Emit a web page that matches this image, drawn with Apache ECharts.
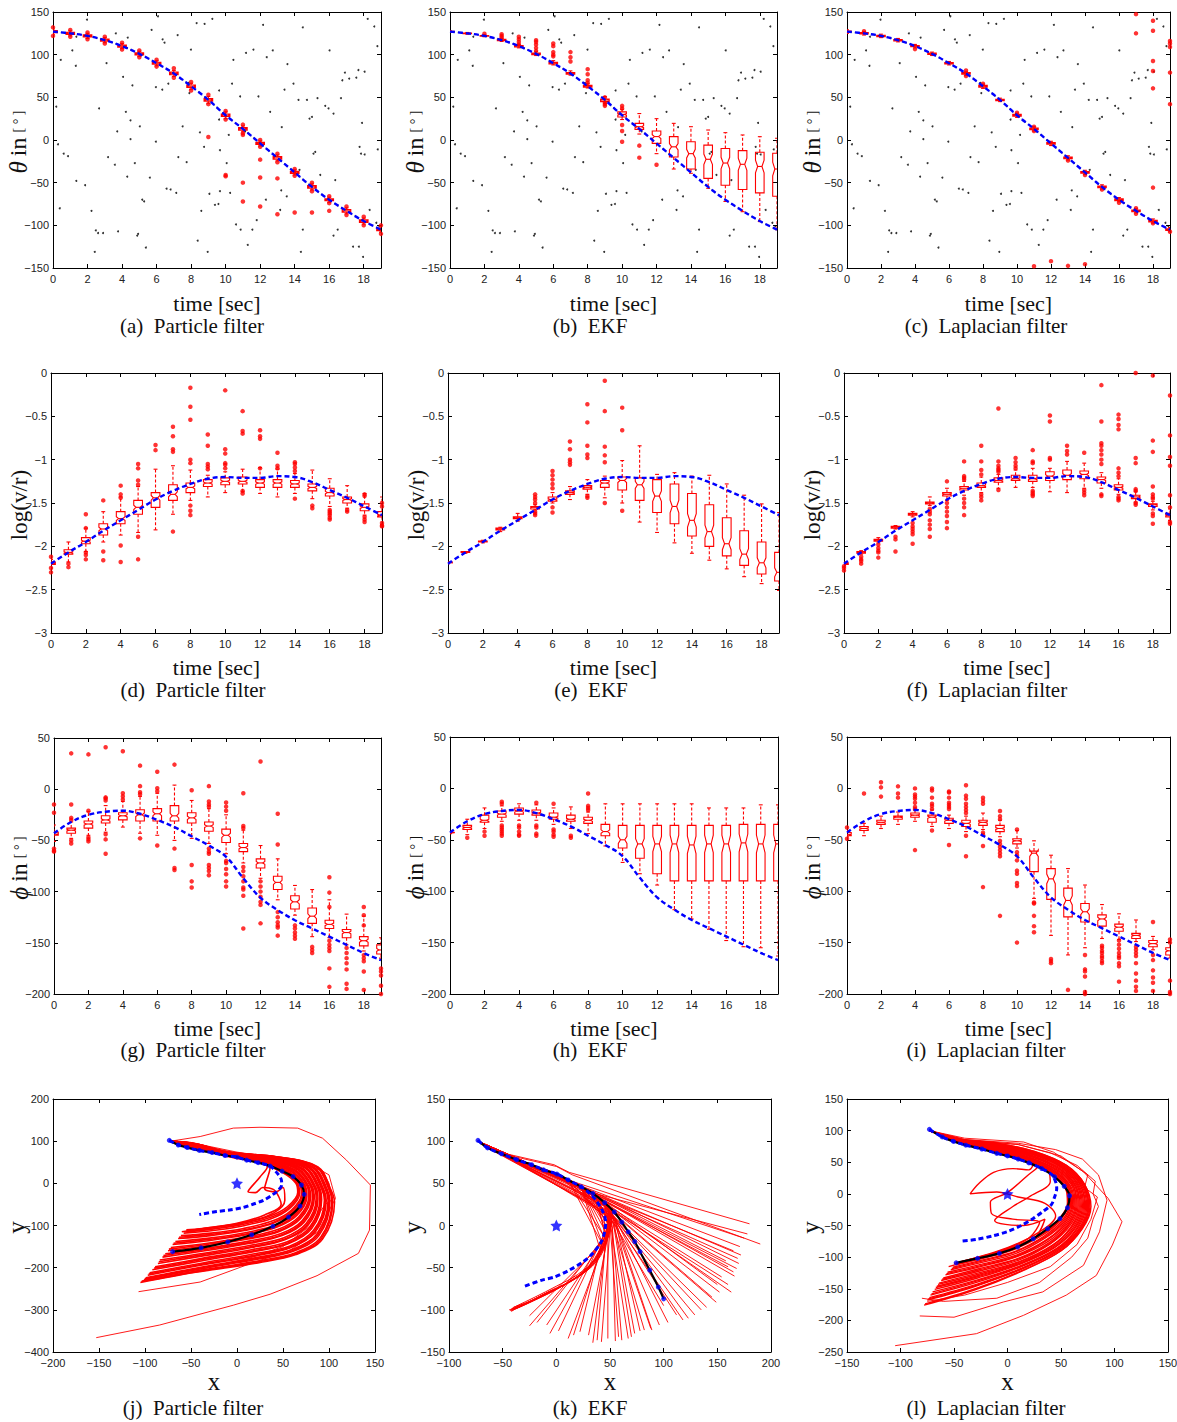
<!DOCTYPE html>
<html>
<head>
<meta charset="utf-8">
<title>Filter comparison</title>
<script src="https://cdn.jsdelivr.net/npm/echarts/dist/echarts.min.js"></script>
<style>
  html, body { margin: 0; padding: 0; background: #ffffff; }
  #chart { width: 1177px; height: 1422px; }
</style>
</head>
<body>
<div id="chart"></div>
<script>
// ---------- time axis and true state curves ----------
const times = [0,1,2,3,4,5,6,7,8,9,10,11,12,13,14,15,16,17,18,19];
const thetaTrue = [127,125,122,117,110,101,90,78,63,47,29,13,-4,-21,-38,-55,-70,-83,-95,-105];
const logvrTrue = [-2.2,-2.07,-1.95,-1.82,-1.7,-1.58,-1.46,-1.36,-1.28,-1.22,-1.2,-1.21,-1.21,-1.19,-1.2,-1.26,-1.35,-1.44,-1.54,-1.64];
const phiTrue = [-43,-32,-25,-22,-21,-24,-30,-37,-46,-55,-66,-87,-106,-118,-128,-136,-144,-152,-160,-167];

// bearing measurements [t, theta]
const clutter = [
  [1.97,141],[6.08,145],[8.32,137],[8.78,136],[9.23,142],[12.17,135],[18.23,142],[18.61,133],
  [5.71,129],[3.64,125],[4.33,120],[7.22,123],[6.35,118],[6.46,114],[14.47,132],[18.79,110],[1.35,121],[1.12,105],
  [0.45,94],[1.32,87],[3.1,90],[7.99,106],[11.18,102],[11.61,106],[10.45,94],[12.38,97],[12.73,105],[13.58,89],[16.02,105],
  [16.91,79],[16.76,70],[17.16,72],[17.57,73],[17.69,82],[18.05,80],
  [4.06,74],[4.6,64],[5.96,62],[6.33,59],[6.68,66],[7.84,67],[7.9,55],[9.62,58],[10.37,66],[10.84,51],[11.9,51],[13.41,59],
  [13.93,66],[14.22,47],[14.71,47],[15,27],[14.86,25],[15.32,49],[15.77,40],[15.96,37],[16.25,31],[16.68,49],[17.9,20],
  [0.19,39],[2.67,37],[3.72,10],[4.22,33],[4.49,23],[5.03,16],[5.96,-2],[7.51,16],[8.51,9],[9.62,24],[10.18,6],[11.13,10],
  [12.58,33],[13.25,15],[15.19,-14],
  [0.29,-5],[0.62,-16],[0.87,-19],[3.19,-20],[3.58,-29],[4.49,1],[4.74,-27],[5.61,-44],[6.58,-57],[6.81,-58],[7.26,-20],
  [7.74,-26],[8.75,-8],[9.67,-12],[10.06,-27],[14.28,-35],[15.09,-16],[17.76,-8],[17.84,-16],[18.05,-17],[18.81,-11],
  [1.35,-48],[1.86,-53],[4.3,-43],[7.14,-62],[9.06,-63],[9.58,-75],[9.67,-60],[10.26,-62],[12.33,-70],[13.22,-59],[13.54,-66],
  [15.48,-41],[16.35,-47],
  [0.39,-80],[2.23,-83],[5.17,-70],[5.28,-72],[8.59,-83],[9.38,-76],[10.6,-99],[10.87,-105],[11.55,-105],[11.8,-94],[13.16,-82],
  [16.49,-105],[18.34,-82],[18.73,-97],
  [2.48,-106],[2.61,-109],[2.9,-109],[3.77,-107],[4.88,-112],[4.93,-110],[2.42,-131],[5.38,-126],[8.38,-118],[8.96,-131],
  [11.28,-123],[14.36,-131],[14.47,-105],[16.25,-112],[17.38,-125],[17.72,-125],[17.96,-137],[18.9,-101]
];

// ---------- box statistics: [t, lower whisker, q1, median, q3, upper whisker] ----------
const thetaBoxPF = [
  [0,124,125.8,127,128.2,130],[1,122,123.8,125,126.2,128],[2,119,120.8,122,123.2,125],[3,114,115.8,117,118.2,120],
  [4,107,108.8,110,111.2,113],[5,98,99.8,101,102.2,104],[6,87,88.8,90,91.2,93],[7,74.5,76.5,78,79.5,81.5],
  [8,59.5,61.5,63,64.5,66.5],[9,43,45.5,47,48.5,51],[10,25,27.5,29,30.5,33],[11,9.5,11.5,13,14.5,16.5],
  [12,-7,-5.2,-4,-2.8,-1],[13,-24.5,-22.5,-21,-19.5,-17.5],[14,-41,-39.2,-38,-36.8,-35],[15,-58.5,-56.5,-55,-53.5,-51.5],
  [16,-73,-71.2,-70,-68.8,-67],[17,-86.5,-84.5,-83,-81.5,-79.5],[18,-98.5,-96.5,-95,-93.5,-91.5],[19,-108,-106.2,-105,-103.8,-102]
];
const thetaOutPF = [
  [0,132],[0,122],[1,129],[1,121],[2,126],[2,118],[3,121],[3,113],[4,114],[4,106],[5,105],[5,97],[6,94],[6,86],
  [7,84],[7,73],[8,68],[8,58],[9,53],[9,42],[10,34],[10,24],[11,18],[11,8],[12,0],[12,-8],[13,-16],[13,-26],
  [14,-34],[14,-42],[15,-50],[15,-60],[16,-66],[16,-74],[17,-78],[17,-88],[18,-90],[18,-100],[19,-100],[19,-110],
  [9,3.5],[10,-41],[10,-42.5],[11,6],[11,-50],[11,-72],[12,-23],[12,-44],[12,-78],[13,-45],[13,-87],[14,-85],[15,-85],[16,-83]
];
const thetaBoxEKF = [
  [0,126,126.6,127,127.4,128],[1,124,124.6,125,125.4,126],[2,121,121.6,122,122.5,123.5],[3,115.5,116.5,117,118,119],
  [4,108,109,110,110.8,112],[5,99,100,101,102,104],[6,88,89,90,91,93],[7,76,77,78,79,81],
  [8,61,62,63,64,66],[9,43,45,47,48,51],[10,24,27,30,33,36],[11,7,12.5,15.6,19.5,31],
  [12,-16,-4,4,10.5,25],[13,-34,-20,-8,4,19.5],[14,-39,-34,-16,-2,15.6],[15,-56.6,-45,-22.6,-6,11.7],
  [16,-72,-53,-27,-10,8.6],[17,-84,-58,-28.5,-12.5,5.9],[18,-95.6,-62,-31,-14.4,3.9],[19,-105,-66,-34,-15.6,2]
];
const thetaOutEKF = [
  [2,124.5],[3,120],[3,122],[3,124],[4,112],[4,115],[4,118],[4,121],[5,104.5],[5,108],[5,112],[5,115],[5,117],
  [6,98],[6,100],[6,103],[6,110],[6,113],[7,92],[7,97],[7,103],[8,67],[8,70],[8,77],[8,83],
  [9,40],[9,42],[9,44],[9,50],[10,40],[10,37],[10,17.5],[10,10.5],[10,-2],[11,-6.6],[11,-20.7],[12,-29]
];
const thetaBoxLap = [
  [0,125,126.2,127,127.8,129],[1,123,124.2,125,125.8,127],[2,120,121.2,122,122.8,124],[3,115,116.2,117,117.8,119],
  [4,108,109.2,110,110.8,112],[5,99,100.2,101,101.8,103],[6,88,89.2,90,90.8,92],[7,75.5,77,78,79,80.5],
  [8,60.5,62,63,64,65.5],[9,45,46.2,47,47.8,49],[10,26.5,28,29,30,31.5],[11,10.5,12,13,14,15.5],
  [12,-6.5,-5,-4,-3,-1.5],[13,-23.5,-22,-21,-20,-18.5],[14,-40.5,-39,-38,-37,-35.5],[15,-57.5,-56,-55,-54,-52.5],
  [16,-72.5,-71,-70,-69,-67.5],[17,-85.5,-84,-83,-82,-80.5],[18,-97.5,-96,-95,-94,-92.5],[19,-107.5,-106,-105,-104,-102.5]
];
const thetaOutLap = [
  [1,127.5],[4,106.5],[7,81.5],[7,75],[8,66],[10,32],[11,15.5],[11,10.5],[13,-24],[14,-41],[15,-58],[16,-73.5],
  [17,-86.5],[17,-80],[18,-97.5],[19,-107.5],
  [11,-148],[12,-142],[13,-147.5],[14,-145.5],[17,147.5],[17,125],[18,139.7],[18,128],[18,92.5],[18,80.8],[18,60.5],
  [18,-55.8],[19,116],[19,113],[19,109],[19,79],[19,42]
];

const logBoxPF = [
  [0,-2.25,-2.21,-2.2,-2.18,-2.15],[1,-2.18,-2.09,-2.07,-2.04,-1.95],[2,-2.06,-1.97,-1.94,-1.9,-1.79],
  [3,-1.95,-1.87,-1.8,-1.74,-1.6],[4,-1.87,-1.74,-1.68,-1.6,-1.43],[5,-1.84,-1.63,-1.55,-1.47,-1.31],
  [6,-1.81,-1.55,-1.44,-1.38,-1.11],[7,-1.63,-1.47,-1.4,-1.29,-1.07],[8,-1.47,-1.38,-1.32,-1.27,-1.12],
  [9,-1.43,-1.31,-1.27,-1.23,-1.18],[10,-1.38,-1.29,-1.25,-1.21,-1.14],[11,-1.37,-1.28,-1.25,-1.2,-1.11],
  [12,-1.39,-1.32,-1.27,-1.23,-1.09],[13,-1.43,-1.32,-1.27,-1.23,-1.11],[14,-1.39,-1.32,-1.28,-1.24,-1.16],
  [15,-1.45,-1.36,-1.32,-1.28,-1.12],[16,-1.54,-1.42,-1.38,-1.33,-1.22],[17,-1.56,-1.5,-1.46,-1.43,-1.3],
  [18,-1.64,-1.59,-1.55,-1.51,-1.39],[19,-1.75,-1.66,-1.64,-1.6,-1.43]
];
const logOutPF = [
  [0,-2.12],[0,-2.25],[0,-2.3],[1,-2.2],[1,-2.24],[2,-1.63],[2,-1.79],[2,-2.07],[2,-2.1],[2,-2.15],[3,-1.47],[3,-2.06],[3,-2.16],
  [4,-1.3],[4,-1.4],[4,-1.44],[4,-1.99],[4,-2.18],[5,-1.05],[5,-1.1],[5,-1.24],[5,-1.29],[5,-1.89],[5,-2.15],[6,-0.83],[6,-0.89],
  [7,-0.62],[7,-0.73],[7,-0.88],[7,-0.91],[7,-1.83],[8,-0.17],[8,-0.39],[8,-0.54],[8,-1.0],[8,-1.04],[8,-1.53],[8,-1.59],[8,-1.64],
  [9,-0.71],[9,-0.84],[9,-1.05],[9,-1.08],[9,-1.11],[10,-0.2],[10,-0.88],[10,-0.93],[10,-1.04],[10,-1.06],[10,-1.1],
  [11,-0.44],[11,-0.67],[11,-0.7],[11,-1.36],[11,-1.39],[12,-0.66],[12,-0.73],[12,-0.76],[12,-1.1],[13,-0.92],[13,-1.07],[13,-1.1],
  [14,-1.03],[14,-1.05],[14,-1.09],[14,-1.13],[14,-1.45],[15,-1.53],[15,-1.56],[16,-1.58],[16,-1.6],[16,-1.62],[16,-1.64],
  [16,-1.67],[16,-1.69],[17,-1.58],[17,-1.6],[18,-1.4],[18,-1.42],[18,-1.66],[18,-1.69],[18,-1.72],[19,-1.5],[19,-1.54],
  [19,-1.73],[19,-1.76],[19,-1.77]
];
const logBoxEKF = [
  [0,-2.2,-2.19,-2.19,-2.18,-2.18],[1,-2.08,-2.07,-2.07,-2.06,-2.06],[2,-1.96,-1.95,-1.94,-1.94,-1.93],
  [3,-1.83,-1.81,-1.8,-1.79,-1.78],[4,-1.71,-1.68,-1.67,-1.66,-1.62],[5,-1.58,-1.57,-1.55,-1.54,-1.52],
  [6,-1.5,-1.48,-1.46,-1.43,-1.38],[7,-1.46,-1.4,-1.38,-1.36,-1.31],[8,-1.4,-1.34,-1.32,-1.3,-1.23],
  [9,-1.44,-1.32,-1.27,-1.24,-1.19],[10,-1.5,-1.35,-1.24,-1.2,-1.01],[11,-1.72,-1.47,-1.29,-1.21,-0.84],
  [12,-1.84,-1.61,-1.42,-1.23,-1.17],[13,-1.96,-1.74,-1.54,-1.28,-1.15],[14,-2.08,-1.88,-1.7,-1.39,-1.19],
  [15,-2.16,-2.0,-1.83,-1.52,-1.18],[16,-2.26,-2.11,-1.97,-1.67,-1.28],[17,-2.35,-2.22,-2.09,-1.82,-1.41],
  [18,-2.43,-2.32,-2.19,-1.95,-1.51],[19,-2.51,-2.4,-2.3,-2.07,-1.61]
];
const logOutEKF = [
  [5,-1.4],[5,-1.43],[5,-1.46],[5,-1.5],[5,-1.6],[5,-1.62],[5,-1.64],[6,-1.13],[6,-1.18],[6,-1.23],[6,-1.28],[6,-1.33],
  [6,-1.55],[6,-1.61],[7,-0.79],[7,-0.88],[7,-1.0],[7,-1.03],[7,-1.06],[8,-0.36],[8,-0.57],[8,-0.84],[8,-0.94],[8,-0.98],
  [8,-1.42],[8,-1.44],[9,-0.09],[9,-0.44],[9,-0.85],[9,-0.95],[9,-1.03],[9,-1.5],[10,-0.4],[10,-0.66],[10,-1.59]
];
const logBoxLap = [
  [0,-2.22,-2.21,-2.2,-2.19,-2.18],[1,-2.09,-2.08,-2.07,-2.06,-2.05],[2,-1.96,-1.94,-1.93,-1.92,-1.9],
  [3,-1.8,-1.79,-1.78,-1.77,-1.76],[4,-1.66,-1.64,-1.63,-1.62,-1.6],[5,-1.53,-1.51,-1.5,-1.49,-1.43],
  [6,-1.47,-1.42,-1.4,-1.38,-1.33],[7,-1.41,-1.35,-1.33,-1.31,-1.25],[8,-1.38,-1.32,-1.3,-1.27,-1.2],
  [9,-1.33,-1.26,-1.24,-1.21,-1.17],[10,-1.32,-1.24,-1.22,-1.18,-1.12],[11,-1.32,-1.25,-1.22,-1.18,-1.1],
  [12,-1.37,-1.24,-1.19,-1.14,-1.1],[13,-1.38,-1.23,-1.18,-1.12,-1.02],[14,-1.33,-1.22,-1.17,-1.13,-1.04],
  [15,-1.33,-1.27,-1.23,-1.2,-1.15],[16,-1.4,-1.35,-1.32,-1.29,-1.22],[17,-1.49,-1.45,-1.43,-1.41,-1.37],
  [18,-1.58,-1.54,-1.52,-1.51,-1.48],[19,-1.7,-1.66,-1.64,-1.62,-1.57]
];
const logOutLap = [
  [0,-2.23],[0,-2.25],[0,-2.28],[1,-2.12],[1,-2.15],[1,-2.17],[1,-2.2],[2,-1.98],[2,-2.02],[2,-2.05],[2,-2.07],[2,-2.13],
  [3,-1.89],[3,-1.92],[3,-2.06],[4,-1.73],[4,-1.77],[4,-1.8],[4,-1.83],[4,-1.86],[4,-1.97],
  [5,-1.57],[5,-1.6],[5,-1.63],[5,-1.7],[5,-1.75],[5,-1.8],[5,-1.89],
  [6,-1.25],[6,-1.5],[6,-1.55],[6,-1.6],[6,-1.65],[6,-1.72],[6,-1.79],
  [7,-1.02],[7,-1.19],[7,-1.21],[7,-1.23],[7,-1.45],[7,-1.5],[7,-1.55],[7,-1.64],
  [8,-0.84],[8,-1.02],[8,-1.12],[8,-1.17],[8,-1.4],[8,-1.43],[8,-1.47],
  [9,-0.41],[9,-1.02],[9,-1.07],[9,-1.1],[9,-1.12],[9,-1.14],[9,-1.35],[10,-0.98],[10,-1.03],[10,-1.07],[10,-1.1],
  [11,-0.89],[11,-1.02],[11,-1.04],[11,-1.36],[11,-1.38],[11,-1.4],[11,-1.42],[12,-0.49],[12,-0.56],[12,-0.98],[12,-1.0],
  [13,-0.84],[13,-0.9],[13,-0.94],[14,-0.92],[14,-1.35],[14,-1.38],[14,-1.41],
  [15,-0.14],[15,-0.56],[15,-0.81],[15,-0.84],[15,-0.89],[15,-0.94],[15,-1.0],[15,-1.05],[15,-1.4],[15,-1.42],
  [16,-0.48],[16,-0.53],[16,-0.6],[16,-0.65],[16,-1.1],[16,-1.15],[16,-1.19],[16,-1.43],[16,-1.45],[16,-1.47],
  [17,0],[17,-0.98],[17,-1.04],[17,-1.34],[17,-1.36],[17,-1.5],[17,-1.52],
  [18,-0.03],[18,-0.78],[18,-0.91],[18,-1.31],[18,-1.4],[18,-1.43],[18,-1.45],[18,-1.62],[18,-1.65],[18,-1.74],
  [19,-0.26],[19,-0.72],[19,-0.97],[19,-1.07],[19,-1.41],[19,-1.55],[19,-1.72],[19,-1.74]
];

const phiBoxPF = [
  [0,-51,-45,-44,-42,-35],[1,-48,-43,-40,-38,-32],[2,-45,-38,-34,-31,-22],[3,-42,-33,-30,-26,-16],
  [4,-37,-30,-26,-23,-12],[5,-43,-31,-25,-20,-7],[6,-45,-31,-24,-19,-4],[7,-50,-31,-26,-16,4],
  [8,-48,-33,-28,-23,-11],[9,-53,-41,-36,-32,-19],[10,-63,-52,-45,-39,-25],[11,-72,-61,-57,-53,-40],
  [12,-87,-77,-72,-68,-55],[13,-108,-98,-91,-85,-68],[14,-123,-117,-110,-104,-94],[15,-144,-131,-124,-116,-98],
  [16,-145,-136,-132,-128,-108],[17,-152,-145,-140,-137,-122],[18,-158,-153,-148,-144,-124],[19,-165,-161,-157,-152,-145]
];
const phiOutPF = [
  [0,-15],[0,-23],[0,-58],[0,-60],[0,-61],[1,35],[1,-15],[1,-28],[1,-30],[1,-50],[1,-53],[2,34],[2,-21],[2,-47],[2,-49],[2,-51],
  [3,41],[3,-8],[3,-9],[3,-11],[3,-44],[3,-49],[3,-63],[4,37],[4,-4],[4,-7],[4,-10],[5,23],[5,3],[5,-3],[5,-5],[5,-48],
  [6,17],[6,1],[6,-2],[6,-55],[7,24],[7,-58],[7,-77],[7,-79],[8,-1],[8,-74],[8,-90],[8,-96],
  [9,3],[9,-12],[9,-15],[9,-17],[9,-58],[9,-61],[9,-63],[9,-74],[9,-77],[9,-80],[9,-84],
  [10,-13],[10,-17],[10,-21],[10,-70],[10,-72],[10,-78],[10,-83],[10,-90],[10,-95],
  [11,-4],[11,-36],[11,-38],[11,-76],[11,-80],[11,-85],[11,-90],[11,-96],[11,-98],[11,-104],[11,-136],
  [12,27],[12,-90],[12,-95],[12,-100],[12,-105],[12,-110],[12,-113],[12,-131],
  [13,-24],[13,-54],[13,-120],[13,-125],[13,-130],[13,-133],[13,-135],[13,-143],
  [14,-133],[14,-136],[14,-140],[14,-143],[14,-146],[15,-154],[15,-157],[15,-160],
  [16,-86],[16,-101],[16,-115],[16,-148],[16,-152],[16,-155],[16,-158],[16,-175],[16,-193],
  [17,-155],[17,-160],[17,-165],[17,-170],[17,-176],[17,-190],[17,-195],
  [18,-115],[18,-123],[18,-133],[18,-162],[18,-165],[18,-168],[18,-178],[18,-196],
  [19,-175],[19,-178],[19,-182],[19,-192],[19,-200]
];
const phiBoxEKF = [
  [0,-44,-43.4,-43,-42.6,-42],[1,-45,-40,-38,-36,-30],[2,-39,-33,-31,-26,-19],[3,-32,-28,-25,-22,-17],
  [4,-31,-25,-22,-19,-15],[5,-31,-26,-24,-21,-16],[6,-35,-30,-28,-24,-19],[7,-39,-32,-30,-26,-18],
  [8,-44,-34,-31,-28,-23],[9,-56,-46,-42,-35,-15],[10,-72,-58,-50,-36,-15],[11,-83,-68,-54,-36,-15],
  [12,-94,-83,-54,-36,-15],[13,-118,-90,-54,-36,-15],[14,-127,-90,-55,-36,-15],[15,-137,-90,-54,-36,-19],
  [16,-148,-90,-54,-36,-19],[17,-154,-90,-53,-35,-19],[18,-155,-90,-54,-35,-16],[19,-163,-90,-54,-35,-16]
];
const phiOutEKF = [
  [1,-48],[2,-42],[2,-46],[3,-13],[3,-15],[3,-36],[3,-38],[3,-40],[3,-42],[3,-44],[3,-46],
  [4,-36],[4,-38],[4,-42],[4,-45],[4,-46],[5,-14],[5,-36],[5,-38],[5,-44],[5,-46],
  [6,-15],[6,-40],[6,-42],[6,-45],[6,-47],[7,-46],[7,-48],[8,-5],[8,-17],[8,-19],[8,-21]
];
const phiBoxLap = [
  [0,-47,-46,-45,-43,-41],[1,-46,-41,-39,-37,-34],[2,-39,-35,-33,-31,-27],[3,-35,-30,-28,-27,-23],
  [4,-32,-28,-26,-24,-21],[5,-37,-33,-28,-26,-21],[6,-39,-34,-31,-29,-26],[7,-42,-37,-34,-31,-27],
  [8,-40,-36,-33,-31,-24],[9,-47,-42,-39,-36,-31],[10,-58,-54,-51,-49,-41],[11,-107,-81,-63,-61,-51],
  [12,-143,-108,-88,-78,-65],[13,-162,-125,-109,-97,-78],[14,-155,-130,-120,-112,-94],[15,-146,-134,-127,-123,-113],
  [16,-147,-139,-135,-132,-122],[17,-149,-146,-143,-141,-128],[18,-157,-154,-151,-148,-144],[19,-165,-162,-158,-155,-149]
];
const phiOutLap = [
  [0,-38],[0,-49],[1,-5],[2,6],[2,1],[2,-8],[3,2],[3,-5],[3,-9],
  [4,0],[4,-6],[4,-8],[4,-10],[4,-14],[4,-18],[4,-20],[4,-60],[5,0],[5,-2],[5,-9],[5,-15],[5,-17],[5,-20],[5,-41],
  [6,-3],[6,-4],[6,-9],[6,-14],[6,-16],[6,-18],[6,-20],[6,-55],[7,3],[7,-7],[7,-10],[7,-15],[7,-18],[7,-21],[7,-24],[7,-46],[7,-66],
  [8,-9],[8,-12],[8,-15],[8,-43],[8,-45],[8,-56],[8,-96],[9,-22],[9,-27],[9,-30],[9,-51],[9,-54],[9,-57],[9,-60],[9,-63],[9,-66],[9,-124],
  [10,-40],[10,-62],[10,-65],[10,-70],[10,-80],[10,-83],[10,-92],[10,-95],[10,-150],
  [11,-111],[11,-112],[11,-124],[11,-134],[11,-140],[12,-166],[12,-168],[12,-170],[13,-196],
  [14,-162],[14,-176],[14,-178],[14,-183],[14,-198],[14,-200],
  [15,-153],[15,-155],[15,-158],[15,-160],[15,-163],[15,-165],[15,-168],[15,-170],
  [16,-148],[16,-152],[16,-156],[16,-160],[16,-163],[16,-165],[16,-170],[16,-173],[16,-188],
  [17,-154],[17,-157],[17,-160],[17,-163],[17,-170],[17,-180],[17,-187],[17,-193],[17,-197],
  [18,-130],[18,-162],[18,-167],[18,-177],[18,-184],[18,-189],[18,-197],
  [19,-147],[19,-150],[19,-187],[19,-198],[19,-200]
];

// ---------- x-y trajectories ----------
const sensorPos = [[0, 0]];

// particle filter
const truePathPF = [[-73.6,102],[-63.8,91],[-54,85],[-41,78],[-27,73],[-13,66],[0,62],[10.5,55],[23,49],[36,41],[49,29],
  [61,16],[70,-4],[73,-26],[68.5,-54],[56,-80],[39,-102],[16,-122],[-10,-139],[-39,-153],[-70,-162]];
const estPathPF = [[-73.6,102],[-63.8,91],[-54,85],[-41,78],[-27,73],[-13,66],[0,62],[10.5,55],[23,49],[36,41],[43,26],
  [48,10],[48.6,-4],[45,-16],[38,-28],[29,-40],[18,-49],[7,-57],[-8,-63],[-22,-67],[-41,-74]];
const runsPF = [
  [[-72,100],[-45,84],[-10,64],[25,48],[50,25],[64,0],[66,-22],[55,-55],[35,-78],[5,-95],[-25,-105],[-55,-112]],
  [[-72,100],[-45,84],[-10,65],[25,49],[51,26],[65,0],[67,-23],[56,-58],[36,-81],[5,-98],[-25,-108],[-56,-115]],
  [[-72,100],[-45,85],[-10,65],[25,49],[52,26],[66,-1],[68,-24],[57,-60],[37,-84],[6,-101],[-26,-112],[-58,-118]],
  [[-72,100],[-45,85],[-10,66],[26,50],[54,27],[68,-2],[70,-26],[59,-64],[39,-89],[7,-107],[-28,-118],[-61,-124]],
  [[-72,100],[-45,85],[-10,66],[26,50],[55,27],[69,-3],[71,-27],[60,-66],[40,-92],[8,-110],[-29,-121],[-63,-128]],
  [[-72,100],[-45,86],[-10,66],[27,51],[56,28],[70,-3],[72,-28],[61,-68],[40,-94],[8,-112],[-29,-124],[-64,-131]],
  [[-72,100],[-45,86],[-10,67],[28,52],[58,29],[72,-4],[74,-30],[63,-72],[42,-99],[9,-117],[-30,-130],[-67,-138]],
  [[-72,100],[-45,86],[-10,67],[28,52],[59,29],[73,-4],[75,-31],[64,-74],[43,-102],[10,-120],[-31,-133],[-69,-142]],
  [[-72,100],[-45,87],[-10,67],[29,53],[60,30],[74,-5],[76,-31],[65,-76],[43,-104],[10,-122],[-31,-136],[-70,-145]],
  [[-72,100],[-45,87],[-10,68],[30,54],[62,30],[76,-6],[78,-32],[67,-80],[45,-109],[11,-127],[-32,-142],[-72,-152]],
  [[-72,100],[-44,87],[-10,68],[31,54],[63,31],[77,-7],[79,-33],[68,-82],[46,-112],[12,-130],[-33,-145],[-74,-156]],
  [[-72,100],[-44,88],[-10,68],[31,55],[64,31],[78,-7],[80,-33],[69,-84],[46,-114],[12,-132],[-33,-148],[-75,-160]],
  [[-72,100],[-44,88],[-10,69],[32,56],[66,32],[80,-8],[82,-34],[71,-88],[48,-119],[13,-137],[-34,-154],[-78,-167]],
  [[-72,100],[-44,88],[-10,69],[33,56],[67,33],[81,-9],[83,-35],[72,-90],[49,-122],[14,-140],[-35,-157],[-80,-171]],
  [[-72,100],[-44,89],[-10,69],[33,57],[68,33],[82,-9],[84,-35],[73,-92],[49,-124],[14,-142],[-35,-160],[-81,-175]],
  [[-72,100],[-44,89],[-10,70],[34,58],[70,34],[84,-10],[86,-36],[75,-96],[51,-129],[15,-147],[-36,-166],[-84,-182]],
  [[-72,100],[-44,89],[-10,70],[35,58],[71,35],[85,-11],[87,-37],[76,-98],[52,-132],[16,-150],[-37,-169],[-85,-186]],
  [[-72,100],[-44,90],[-10,70],[35,59],[72,35],[86,-11],[88,-37],[77,-100],[52,-134],[16,-152],[-37,-172],[-86,-190]],
  [[-72,100],[-44,90],[-10,71],[36,60],[74,36],[88,-12],[90,-38],[79,-104],[54,-139],[17,-157],[-38,-178],[-89,-198]],
  [[-72,100],[-44,90],[-10,71],[37,60],[75,36],[89,-12],[91,-39],[80,-106],[55,-142],[18,-160],[-39,-181],[-90,-201]],
  [[-72,100],[-44,91],[-10,71],[37,60],[76,36],[90,-12],[92,-39],[81,-108],[55,-144],[18,-162],[-39,-184],[-92,-205]],
  [[-72,100],[-44,91],[-10,72],[38,61],[78,37],[92,-13],[95,-40],[83,-112],[57,-149],[19,-167],[-40,-190],[-95,-212]],
  [[-72,100],[-44,91],[-10,72],[39,61],[79,37],[93,-13],[96,-41],[84,-114],[58,-151],[20,-170],[-41,-193],[-96,-215]],
  [[-72,100],[-44,92],[-10,72],[39,61],[80,37],[94,-13],[97,-41],[85,-116],[58,-153],[20,-172],[-41,-195],[-97,-218]],
  [[-72,100],[-44,92],[-10,73],[40,62],[82,38],[96,-14],[99,-41],[87,-120],[60,-157],[21,-176],[-42,-200],[-99,-224]],
  [[-72,100],[-44,92],[-10,73],[41,62],[83,38],[97,-14],[100,-42],[88,-122],[61,-159],[22,-178],[-43,-202],[-100,-226]],
  [[-72,100],[-44,93],[-10,73],[41,62],[84,38],[98,-14],[101,-42],[89,-124],[61,-161],[22,-180],[-43,-204],[-101,-228]],
  [[-72,100],[-44,93],[-10,74],[42,63],[86,39],[100,-15],[103,-43],[91,-128],[63,-165],[23,-184],[-44,-208],[-103,-232]],
  [[-72,100],[-44,93],[-10,74],[42,63],[87,39],[101,-15],[104,-43],[92,-130],[64,-167],[24,-186],[-45,-210],[-104,-233]],
  [[-72,100],[-44,94],[-10,74],[43,63],[88,39],[102,-15],[106,-44],[93,-132],[64,-169],[24,-188],[-45,-211],[-105,-235]],
  [[-72,100],[-40,84],[-5,64],[25,50],[33,40],[25,15],[12,-20],[20,-22],[28,-10],[40,-15],[45,-30],[48,-50],[30,-75],[0,-95],[-30,-105],[-60,-115]],
  [[-72,100],[-40,84],[-5,64],[28,48],[36,38],[32,5],[30,-12],[42,-20],[50,-10],[52,-40],[40,-70],[10,-92],[-25,-104],[-55,-110]]
];
const strayPF = [
  [[-72,100],[-40,111],[-4,131],[25,133],[66,131],[93,107],[119,55],[145,-4],[144,-111],[132,-166],[87,-219],[36,-263],[-4,-289],[-84,-336],[-153,-366]],
  [[-72,100],[-40,90],[0,72],[45,62],[80,45],[100,20],[107,-36],[88,-115],[58,-158],[10,-194],[-40,-234],[-107,-257]],
  [[-72,100],[-40,92],[0,74],[50,58],[93,30],[100,0],[104,-38],[96,-50],[80,-100],[50,-150],[10,-180],[-50,-210],[-102,-230]]
];

// EKF
const truePathEKF = [[-73,101],[-64,92],[-51,85],[-37,78],[-23,72],[-12,66],[0.6,61],[11,54],[23,46],[34,38],[45,27],
  [54,16],[61,4],[67,-7.5],[73,-19],[78,-31],[87,-53],[95,-73],[100,-87]];
const estPathEKF = [[-73,101],[-64,92],[-51,85],[-37,78],[-23,72],[-12,66],[0.6,61],[11,54],[23,46],[29.5,40],[37,30],
  [43.5,16],[46,4],[45,-7.5],[42,-19],[34,-33],[25,-43],[12,-53],[-1.5,-61],[-14,-65],[-29.5,-72]];
const runsEKF = [
  [[-73,100],[-50,86],[-2,72],[12,63],[180,2]],
  [[-73,100],[-50,85],[0,70],[15,60],[190,-22]],
  [[-73,100],[-51,85],[25,46],[171,-25]],
  [[-73,100],[-45,82],[30,40],[178,-10]],
  [[-73,100],[-40,80],[0,62],[30,42],[172,-35]],
  [[-73,100],[-60,90],[33,38],[169,-39]],
  [[-73,100],[-37,78],[0,61],[35,36],[168,-51]],
  [[-73,100],[-55,87],[38,33],[160,-49]],
  [[-73,100],[-23,72],[11,54],[40,30],[154,-61]],
  [[-73,100],[-37,78],[11,54],[38,34],[166,-60]],
  [[-73,100],[-64,92],[42,28],[163,-79]],
  [[-73,100],[-58,89],[44,24],[160,-70]],
  [[-73,100],[-37,78],[0,61],[23,46],[45,25],[152,-79]],
  [[-73,100],[-50,85],[46,22],[149,-91]],
  [[-73,100],[-23,72],[23,46],[47,22],[145,-85]],
  [[-73,100],[-23,72],[11,54],[34,38],[48,18],[140,-97]],
  [[-73,100],[-51,85],[48,18],[135,-100]],
  [[-73,100],[-60,90],[50,15],[129,-106]],
  [[-73,100],[-37,78],[11,54],[34,38],[52,13],[123,-110]],
  [[-73,100],[-37,78],[0,61],[50,14],[118,-112]],
  [[-73,100],[-51,85],[53,10],[112,-106]],
  [[-73,100],[-23,72],[11,54],[45,27],[54,10],[104,-115]],
  [[-73,100],[-64,92],[52,12],[96,-118]],
  [[-73,100],[-45,82],[55,6],[89,-124]],
  [[-73,100],[-30,75],[11,54],[34,38],[165,-30]],
  [[-73,100],[-37,78],[0,61],[23,46],[158,-42]],
  [[-73,100],[-23,72],[11,54],[175,-15]],
  [[-73,100],[-37,78],[0,62],[28,44],[170,-45]],
  [[-73,100],[-55,88],[36,36],[165,-55]],
  [[-73,100],[-23,72],[11,54],[30,42],[150,-70]],
  [[-73,100],[-37,78],[0,61],[23,46],[45,27],[53,8],[73,-128]],
  [[-73,100],[-37,78],[23,46],[52,5],[82,-124]],
  [[-73,100],[-37,78],[0,61],[34,38],[50,5],[67,-134]],
  [[-73,100],[-37,78],[0,61],[53,4],[70,-132]],
  [[-73,100],[-51,85],[0,61],[34,38],[52,0],[61,-136]],
  [[-73,100],[-51,85],[11,54],[50,2],[58,-132]],
  [[-73,100],[-37,78],[11,54],[48,5],[48,-134]],
  [[-73,100],[-64,92],[45,25],[50,-5],[42,-138]],
  [[-73,100],[-37,78],[23,46],[47,-2],[38,-136]],
  [[-73,100],[-37,78],[11,54],[40,30],[48,0],[34,-139]],
  [[-73,100],[-51,85],[23,46],[45,-5],[22,-126]],
  [[-73,100],[-60,90],[34,38],[46,-8],[16,-130]],
  [[-73,100],[-37,78],[11,54],[40,25],[48,-10],[11,-134]],
  [[-73,100],[-37,78],[11,54],[44,-12],[2,-125]],
  [[-73,100],[-60,90],[40,20],[45,-10],[-6,-128]],
  [[-73,100],[-37,78],[23,46],[45,-15],[-9,-118]],
  [[-73,100],[-51,85],[23,46],[42,-18],[-18,-115]],
  [[-73,100],[-51,85],[11,54],[42,-20],[-25,-119]],
  [[-73,100],[-37,78],[23,46],[40,-25],[-25,-107]],
  [[-73,100],[-37,78],[11,54],[45,27],[53,8],[88,-122]],
  [[-73,100],[-51,85],[23,46],[55,5],[78,-125]],
  [[-73,100],[-37,78],[0,61],[34,38],[52,-2],[55,-137]],
  [[-73,100],[-23,72],[23,46],[50,10],[100,-95]],
  [[-73,100],[-37,78],[23,46],[50,0],[30,-130]]
];
const hookEKF = [
  [[-73,100],[-37,78],[11,54],[40,32],[52,15],[48,-15],[38,-42],[18,-63],[-8,-80],[-28,-92],[-42,-99]],
  [[-73,100],[-51,85],[23,46],[45,25],[50,12],[45,-20],[33,-47],[12,-67],[-12,-82],[-32,-95],[-44,-100]],
  [[-73,100],[-37,78],[23,46],[47,20],[51,5],[44,-22],[31,-48],[10,-68],[-14,-83],[-33,-96],[-43,-100]],
  [[-73,100],[-37,78],[23,46],[48,10],[43,-22],[30,-50],[8,-70],[-15,-85],[-35,-97],[-43,-101]],
  [[-73,100],[-51,85],[11,54],[45,26],[49,8],[42,-24],[27,-53],[4,-73],[-19,-88],[-38,-99],[-42,-101]],
  [[-73,100],[-23,72],[34,38],[50,8],[44,-25],[28,-52],[5,-72],[-18,-87],[-37,-98],[-42,-102]],
  [[-73,100],[-23,72],[34,38],[51,10],[46,-20],[34,-46],[14,-66],[-10,-81],[-30,-93],[-41,-99]],
  [[-73,100],[-37,78],[11,54],[45,27],[52,12],[47,-18],[36,-44],[16,-64],[-5,-77],[-25,-90],[-40,-97]],
  [[-73,100],[-51,85],[23,46],[49,15],[46,-15],[36,-40],[20,-58],[0,-72],[-20,-85],[-38,-96],[-41,-98]]
];

// Laplacian filter
const truePathLap = [[-73,102],[-61,90],[-50.5,83],[-39,77],[-24,71],[-10,64],[0,60],[10,55],[20,49],[32,40],[44,27],
  [53,12],[58,-3],[56,-22],[49,-39],[37.5,-55],[24,-71],[9.5,-84],[-7.6,-94],[-28,-102],[-48,-109]];
const estPathLap = [[-73,102],[-61,90],[-50.5,83],[-39,77],[-24,71],[-10,64],[0,60],[10,55],[20,49],[32,40],[41,31],
  [45,19],[46,8.4],[44,-5],[41,-17],[33,-28],[24,-39],[13,-50],[1,-59],[-13,-66],[-29,-72],[-44,-75]];
const runsLap = [
  [[-73,100],[-45,82],[-10,65],[20,50],[42,30],[55,5],[56,-15],[48,-40],[32,-62],[5,-85],[-20,-97],[-45,-108]],
  [[-73,100],[-45,82],[-10,66],[20,51],[43,31],[56,5],[57,-15],[49,-41],[33,-63],[6,-86],[-21,-99],[-47,-110]],
  [[-73,100],[-45,82],[-10,66],[20,51],[43,31],[56,6],[57,-16],[49,-42],[33,-65],[6,-88],[-21,-101],[-48,-112]],
  [[-73,100],[-45,82],[-10,67],[21,52],[44,32],[57,7],[58,-17],[50,-44],[34,-67],[7,-91],[-22,-104],[-51,-116]],
  [[-73,100],[-45,83],[-10,68],[21,53],[45,33],[58,8],[59,-17],[51,-45],[35,-68],[7,-92],[-23,-106],[-52,-118]],
  [[-73,100],[-45,83],[-10,68],[21,53],[45,33],[58,8],[60,-18],[52,-46],[35,-70],[8,-94],[-23,-108],[-53,-120]],
  [[-73,100],[-45,83],[-10,69],[22,54],[46,34],[59,9],[61,-18],[53,-47],[37,-72],[8,-97],[-24,-111],[-56,-124]],
  [[-73,100],[-45,83],[-10,69],[22,55],[46,34],[60,9],[62,-18],[54,-48],[37,-73],[9,-98],[-24,-113],[-57,-126]],
  [[-73,100],[-45,83],[-10,70],[22,56],[47,35],[61,10],[63,-19],[55,-49],[38,-75],[9,-99],[-25,-115],[-58,-128]],
  [[-73,100],[-45,84],[-10,71],[22,57],[48,36],[62,11],[64,-19],[56,-50],[39,-77],[10,-102],[-26,-118],[-60,-133]],
  [[-73,100],[-45,84],[-10,71],[22,57],[48,36],[62,11],[65,-19],[57,-50],[40,-78],[10,-103],[-26,-120],[-61,-135]],
  [[-73,100],[-45,84],[-10,72],[23,58],[49,37],[63,12],[66,-19],[58,-51],[40,-79],[10,-105],[-26,-122],[-62,-137]],
  [[-73,100],[-45,84],[-10,73],[23,59],[50,38],[64,12],[67,-20],[59,-53],[42,-81],[11,-107],[-27,-125],[-64,-141]],
  [[-73,100],[-45,84],[-10,73],[23,60],[50,38],[64,12],[68,-20],[60,-53],[42,-82],[11,-108],[-27,-127],[-65,-143]],
  [[-73,100],[-45,85],[-10,74],[23,61],[51,39],[65,13],[69,-20],[61,-54],[43,-83],[12,-109],[-27,-129],[-66,-146]],
  [[-73,100],[-45,85],[-10,75],[24,62],[52,40],[66,13],[70,-20],[62,-55],[44,-84],[12,-110],[-28,-131],[-67,-148]],
  [[-73,100],[-45,85],[-10,75],[24,62],[52,40],[67,13],[71,-20],[63,-55],[44,-85],[12,-111],[-28,-133],[-68,-151]],
  [[-73,100],[-45,85],[-10,76],[24,63],[53,41],[68,14],[72,-20],[64,-56],[46,-86],[13,-113],[-28,-136],[-70,-155]],
  [[-73,100],[-45,85],[-10,76],[24,63],[53,41],[68,14],[73,-20],[65,-56],[46,-87],[13,-114],[-29,-138],[-71,-158]],
  [[-73,100],[-45,85],[-10,77],[24,64],[53,42],[69,14],[74,-20],[66,-57],[47,-87],[13,-115],[-29,-140],[-72,-160]],
  [[-73,100],[-45,86],[-10,78],[25,65],[54,43],[70,14],[75,-20],[67,-57],[48,-88],[14,-117],[-29,-143],[-73,-164]],
  [[-73,100],[-45,86],[-10,78],[25,65],[54,43],[70,15],[76,-20],[68,-56],[48,-88],[14,-118],[-30,-145],[-74,-166]],
  [[-73,100],[-45,86],[-10,79],[25,66],[54,44],[71,15],[76,-20],[68,-56],[49,-89],[14,-118],[-30,-146],[-75,-168]],
  [[-73,100],[-45,86],[-10,80],[25,67],[55,45],[72,15],[77,-21],[69,-56],[50,-90],[15,-121],[-31,-152],[-78,-176]],
  [[-73,100],[-45,86],[-10,80],[25,67],[55,45],[72,15],[78,-20],[70,-55],[50,-90],[15,-120],[-30,-150],[-77,-174]],
  [[-73,100],[-30,78],[5,62],[25,52],[20,38],[5,40],[-13,34],[-27,16],[-35,0],[-10,3],[10,-5],[35,-15],[45,-35],[30,-60],[0,-85],[-45,-108]],
  [[-73,100],[-30,78],[10,60],[30,47],[18,28],[0,2],[-16,-13],[-15,-31],[5,-40],[30,-45],[20,-70],[-10,-92],[-50,-110]],
  [[-73,100],[-30,78],[10,60],[35,45],[40,20],[20,-5],[5,-20],[-12,-42],[15,-50],[35,-40],[25,-70],[-10,-92],[-55,-115]]
];
const strayLap = [
  [[-73,100],[-40,88],[15,82],[43,66],[71,35],[94,-7],[107,-44],[98,-81],[83,-129],[55,-160],[15,-192],[-29,-221],[-105,-240]],
  [[-73,100],[-40,86],[10,80],[45,70],[70,55],[85,30],[93,-10],[86,-60],[71,-113],[33,-155],[-4,-171],[-50,-195],[-82,-193]],
  [[-73,100],[-40,86],[10,78],[40,65],[65,45],[82,20],[80,0],[85,-20],[80,-40],[75,-70],[60,-100],[30,-140],[-10,-165],[-60,-170],[-80,-165]],
  [[-73,100],[-40,85],[10,78],[50,60],[75,30],[72,10],[84,-5],[78,-40],[65,-80],[40,-115],[0,-140],[-40,-160],[-75,-170]]
];

// ---------- drawing ----------
const RED = '#ff0000', BLUE = '#0000ff', INK = '#000000';
const SERIF = '"Liberation Serif","Times New Roman",serif';
const SANS = '"Liberation Sans",Arial,Helvetica,sans-serif';
const fmt = v => (v < 0 ? '\u2212' : '') + Math.abs(v);

const option = { animation: false, backgroundColor: '#ffffff', grid: [], xAxis: [], yAxis: [], series: [], graphic: [] };

const timeName = { text: 'time [sec]', style: { fontFamily: SERIF, fontSize: 22, color: '#111' } };
const xName = { text: 'x', style: { fontFamily: SERIF, fontSize: 25, color: '#111' } };
const angleRich = {
  g: { fontFamily: SERIF, fontStyle: 'italic', fontSize: 25, fill: '#111' },
  r: { fontFamily: SERIF, fontSize: 24, fill: '#111' },
  s: { fontFamily: SERIF, fontSize: 14, fill: '#111' }
};
const yTitles = [];

function panel(rect, xr, yr, xn, xGap, hideMaxX, yTitle) {
  const gi = option.grid.length;
  option.grid.push({ left: rect[0], top: rect[1], width: rect[2], height: rect[3], containLabel: false, outerBoundsMode: 'none' });
  const common = {
    gridIndex: gi, type: 'value', splitLine: { show: false },
    axisLine: { show: true, onZero: false, lineStyle: { color: INK, width: 1 } },
    axisTick: { show: true, inside: true, length: 4, lineStyle: { color: INK, width: 1 } }
  };
  const lab = { fontFamily: SANS, fontSize: 11, color: '#222', formatter: fmt };
  option.xAxis.push(Object.assign({}, common, {
    position: 'bottom', min: xr[0], max: xr[1], interval: xr[2],
    axisLabel: Object.assign({ margin: 5, showMinLabel: true, showMaxLabel: !hideMaxX }, lab),
    name: xn.text, nameLocation: 'middle', nameGap: xGap, nameTextStyle: xn.style
  }));
  option.xAxis.push(Object.assign({}, common, { position: 'top', min: xr[0], max: xr[1], interval: xr[2], axisLabel: { show: false } }));
  option.yAxis.push(Object.assign({}, common, {
    position: 'left', min: yr[0], max: yr[1], interval: yr[2],
    axisLabel: Object.assign({ margin: 4, showMinLabel: true, showMaxLabel: true }, lab)
  }));
  option.yAxis.push(Object.assign({}, common, { position: 'right', min: yr[0], max: yr[1], interval: yr[2], axisLabel: { show: false } }));
  // vertical axis title, centred on the plot and reading bottom-to-top
  yTitles.push({ x: rect[0] - yTitle.dx, y: rect[1] + rect[3] / 2 + 2, t: yTitle });
  return { xAxisIndex: 2 * gi, yAxisIndex: 2 * gi };
}

// notched box with dashed whiskers
function boxItem(params, api) {
  const t = api.value(0), lo = api.value(1), q1 = api.value(2), md = api.value(3), q3 = api.value(4), hi = api.value(5);
  const P = v => api.coord([t, v]);
  const hw = api.size([0.25, 0])[0];
  const inner = hw * 0.5, cap = hw * 0.45;
  const x = P(md)[0];
  const nh = 0.157 * (q3 - q1);
  const y1 = P(q1)[1], y3 = P(q3)[1], ym = P(md)[1], yl = P(lo)[1], yh = P(hi)[1];
  const ya = P(md + nh)[1], yb = P(md - nh)[1];
  const st = { stroke: RED, fill: 'none', lineWidth: 1.1 };
  const dash = { stroke: RED, fill: 'none', lineWidth: 1.1, lineDash: [3, 2] };
  return { type: 'group', children: [
    { type: 'polygon', shape: { points: [[x - hw, y3], [x + hw, y3], [x + hw, ya], [x + inner, ym], [x + hw, yb], [x + hw, y1],
      [x - hw, y1], [x - hw, yb], [x - inner, ym], [x - hw, ya]] }, style: st },
    { type: 'line', shape: { x1: x - inner, y1: ym, x2: x + inner, y2: ym }, style: st },
    { type: 'line', shape: { x1: x, y1: y3, x2: x, y2: yh }, style: dash },
    { type: 'line', shape: { x1: x, y1: y1, x2: x, y2: yl }, style: dash },
    { type: 'line', shape: { x1: x - cap, y1: yh, x2: x + cap, y2: yh }, style: st },
    { type: 'line', shape: { x1: x - cap, y1: yl, x2: x + cap, y2: yl }, style: st }
  ] };
}

function timeSeries(ax, boxes, outs, curve, withMeas) {
  const curveData = times.map((t, i) => [t, curve[i]]);
  if (withMeas) {
    option.series.push(Object.assign({ type: 'scatter', data: clutter, symbolSize: 2, itemStyle: { color: INK }, silent: true, z: 1 }, ax));
  }
  option.series.push(Object.assign({ type: 'custom', data: boxes, renderItem: boxItem, clip: true, silent: true, z: 2,
    encode: { x: 0, y: [1, 2, 3, 4, 5] } }, ax));
  option.series.push(Object.assign({ type: 'scatter', data: outs, symbolSize: 4.5, itemStyle: { color: RED }, silent: true, z: 3 }, ax));
  if (withMeas) {
    option.series.push(Object.assign({ type: 'line', data: curveData, smooth: 0.4, showSymbol: false, silent: true, z: 4,
      lineStyle: { color: INK, width: 1, type: [1, 3] } }, ax));
  }
  option.series.push(Object.assign({ type: 'line', data: curveData, smooth: 0.4, showSymbol: false, silent: true, z: 5,
    lineStyle: { color: BLUE, width: 2.4, type: [5, 3] } }, ax));
}

function trackSeries(ax, smoothRuns, straightRuns, truePath, estPath, w) {
  smoothRuns.forEach(r => option.series.push(Object.assign({ type: 'line', data: r, smooth: 0.35, showSymbol: false, silent: true,
    z: 1, lineStyle: { color: RED, width: w } }, ax)));
  straightRuns.forEach(r => option.series.push(Object.assign({ type: 'line', data: r, smooth: false, showSymbol: false, silent: true,
    z: 1, lineStyle: { color: RED, width: 0.9 } }, ax)));
  option.series.push(Object.assign({ type: 'line', data: truePath, smooth: 0.3, showSymbol: false, silent: true, z: 3,
    lineStyle: { color: INK, width: 2.2 } }, ax));
  option.series.push(Object.assign({ type: 'line', data: estPath, smooth: 0.3, showSymbol: false, silent: true, z: 4,
    lineStyle: { color: BLUE, width: 3, type: [5, 3] } }, ax));
  option.series.push(Object.assign({ type: 'scatter', data: truePath, symbolSize: 5, itemStyle: { color: BLUE }, silent: true, z: 5 }, ax));
  option.series.push(Object.assign({ type: 'scatter', data: sensorPos, symbolSize: 12, silent: true, z: 6,
    symbol: 'path://M0,-10L2.9,-4L9.5,-3.1L4.7,1.5L5.9,8.1L0,5L-5.9,8.1L-4.7,1.5L-9.5,-3.1L-2.9,-4Z',
    itemStyle: { color: BLUE } }, ax));
}

const thetaTitle = { text: '{g|\u03b8} {r|in} {s|[ \u00b0 ]}', rich: angleRich, fontSize: 20, dx: 35 };
const phiTitle = { text: '{g|\u03d5} {r|in} {s|[ \u00b0 ]}', rich: angleRich, fontSize: 20, dx: 35 };
const logTitle = { text: 'log(v/r)', fontSize: 23, dx: 32 };
const yTitle = { text: 'y', fontSize: 25, dx: 37 };

// row 1: bearing
timeSeries(panel([53, 12, 328, 256], [0, 19, 2], [-150, 150, 50], timeName, 24, true, thetaTitle), thetaBoxPF, thetaOutPF, thetaTrue, true);
timeSeries(panel([450, 12, 327, 256], [0, 19, 2], [-150, 150, 50], timeName, 24, true, thetaTitle), thetaBoxEKF, thetaOutEKF, thetaTrue, true);
timeSeries(panel([847, 12, 323, 256], [0, 19, 2], [-150, 150, 50], timeName, 24, true, thetaTitle), thetaBoxLap, thetaOutLap, thetaTrue, true);
// row 2: log(v/r)
timeSeries(panel([51, 373, 331, 260], [0, 19, 2], [-3, 0, 0.5], timeName, 23, true, logTitle), logBoxPF, logOutPF, logvrTrue, false);
timeSeries(panel([448, 373, 331, 260], [0, 19, 2], [-3, 0, 0.5], timeName, 23, true, logTitle), logBoxEKF, logOutEKF, logvrTrue, false);
timeSeries(panel([844, 373, 326, 260], [0, 19, 2], [-3, 0, 0.5], timeName, 23, true, logTitle), logBoxLap, logOutLap, logvrTrue, false);
// row 3: heading
timeSeries(panel([54, 738, 327, 256], [0, 19, 2], [-200, 50, 50], timeName, 23, true, phiTitle), phiBoxPF, phiOutPF, phiTrue, false);
timeSeries(panel([450, 737, 328, 257], [0, 19, 2], [-200, 50, 50], timeName, 23, true, phiTitle), phiBoxEKF, phiOutEKF, phiTrue, false);
timeSeries(panel([847, 737, 323, 257], [0, 19, 2], [-200, 50, 50], timeName, 23, true, phiTitle), phiBoxLap, phiOutLap, phiTrue, false);
// row 4: x-y tracks
trackSeries(panel([53, 1099, 322, 253], [-200, 150, 50], [-400, 200, 100], xName, 15, false, yTitle), runsPF, strayPF, truePathPF, estPathPF, 1.6);
trackSeries(panel([449, 1099, 322, 253], [-100, 200, 50], [-150, 150, 50], xName, 15, false, yTitle), hookEKF, runsEKF, truePathEKF, estPathEKF, 1.0);
trackSeries(panel([847, 1099, 321, 253], [-150, 150, 50], [-250, 150, 50], xName, 15, false, yTitle), runsLap, strayLap, truePathLap, estPathLap, 1.4);

// sub-captions
const captions = [
  [192, 326, '(a)\u00a0 Particle filter'], [590, 326, '(b)\u00a0 EKF'], [986, 326, '(c)\u00a0 Laplacian filter'],
  [193, 690, '(d)\u00a0 Particle filter'], [591, 690, '(e)\u00a0 EKF'], [987, 690, '(f)\u00a0 Laplacian filter'],
  [193, 1050, '(g)\u00a0 Particle filter'], [590, 1050, '(h)\u00a0 EKF'], [986, 1050, '(i)\u00a0 Laplacian filter'],
  [193, 1408, '(j)\u00a0 Particle filter'], [590, 1408, '(k)\u00a0 EKF'], [986, 1408, '(l)\u00a0 Laplacian filter']
];
option.graphic = captions.map(c => ({
  type: 'text', x: c[0], y: c[1], silent: true,
  style: { text: c[2], fontFamily: SERIF, fontSize: 21, fill: '#111', align: 'center', verticalAlign: 'middle' }
})).concat(yTitles.map(o => ({
  type: 'text', x: o.x, y: o.y, rotation: Math.PI / 2, silent: true,
  style: { text: o.t.text, rich: o.t.rich, fontFamily: SERIF, fontSize: o.t.fontSize, fill: '#111', align: 'center', verticalAlign: 'middle' }
})));

const chart = echarts.init(document.getElementById('chart'), null, { renderer: 'svg', width: 1177, height: 1422 });
chart.setOption(option);
</script>
</body>
</html>
